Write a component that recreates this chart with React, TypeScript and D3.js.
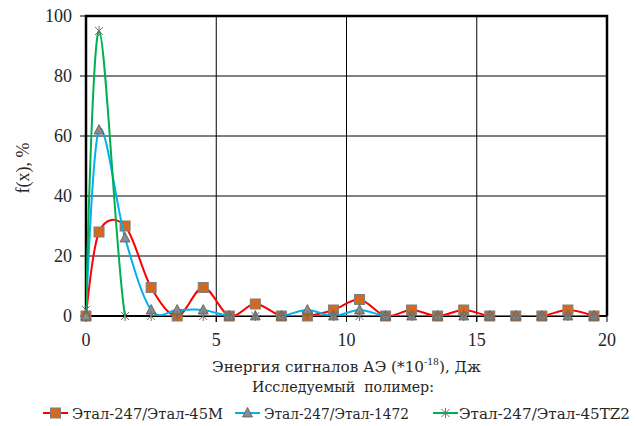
import React from "react";
import * as d3 from "d3";

const xValues = [0, 0.5, 1.5, 2.5, 3.5, 4.5, 5.5, 6.5, 7.5, 8.5, 9.5, 10.5, 11.5, 12.5, 13.5, 14.5, 15.5, 16.5, 17.5, 18.5, 19.5];
const series45M = [0, 28, 30, 9.5, 0, 9.5, 0, 4, 0, 0, 2, 5.5, 0, 2, 0, 2, 0, 0, 0, 2, 0];
const series1472 = [0, 62, 26, 2, 2, 2, 0, 0, 0, 2, 0, 2, 0, 0, 0, 0, 0, 0, 0, 0, 0];
const series45TZ2 = [2, 95, 0, 0, 0, 0, 0, 0, 0, 0, 0, 0, 0, 0, 0, 0, 0, 0, 0, 0, 0];
const seriesNames = ["Этал-247/Этал-45М", "Этал-247/Этал-1472", "Этал-247/Этал-45TZ2"];
const xTicks = [0, 5, 10, 15, 20];
const yTicks = [0, 20, 40, 60, 80, 100];

const W = 636, H = 426;
const left = 86, right = 607, top = 16, bottom = 316;
const latinFont = "'Liberation Serif', 'Times New Roman', serif";
const cyrFont = "'DejaVu Serif Condensed', 'DejaVu Serif', serif";
const ink = "#262626";

function Marker({ kind, x, y }: { kind: string; x: number; y: number }) {
  if (kind === "square") {
    return <rect x={x - 5} y={y - 5} width={10} height={10} fill="#D2691E" stroke="#7f7f7f" strokeWidth={1} />;
  }
  if (kind === "triangle") {
    return <path d={`M${x},${y - 5.5}L${x + 5},${y + 4}L${x - 5},${y + 4}Z`} fill="#8c8c8c" stroke="#595959" strokeWidth={0.8} />;
  }
  const r = 4;
  return (
    <g stroke="#6e6e6e" strokeWidth={1}>
      <line x1={x - r} y1={y - r} x2={x + r} y2={y + r} />
      <line x1={x - r} y1={y + r} x2={x + r} y2={y - r} />
      <line x1={x} y1={y - r - 1} x2={x} y2={y + r + 1} />
    </g>
  );
}

export default function App() {
  const x = d3.scaleLinear().domain([0, 20]).range([left, right]);
  const y = d3.scaleLinear().domain([0, 100]).range([bottom, top]);
  const line = d3
    .line<number>()
    .x((_, i) => x(xValues[i]))
    .y((d) => y(d))
    .curve(d3.curveCardinal.tension(0));

  const series = [
    { values: series45M, color: "#FF0000", marker: "square" },
    { values: series1472, color: "#00B0F0", marker: "triangle" },
    { values: series45TZ2, color: "#00B050", marker: "star" },
  ];

  // legend layout: line start, text start, text width
  const legendLine = [43, 235, 433];
  const legendText = [72, 264, 459];
  const legendWidth = [151, 145, 171];

  const latin = { fontFamily: latinFont, fontSize: 18, fill: ink } as React.CSSProperties;
  const cyr = { fontFamily: cyrFont, fontSize: 15.5, fill: ink } as React.CSSProperties;

  return (
    <svg width={W} height={H} style={{ position: "absolute", left: 0, top: 0, background: "#fff" }}>
      <defs>
        <clipPath id="plot">
          <rect x={left} y={top - 10} width={right - left} height={bottom - top + 10} />
        </clipPath>
      </defs>
      {/* grid */}
      {yTicks.filter((t) => t > 0 && t < 100).map((t) => (
        <line key={"gy" + t} x1={left} x2={right} y1={y(t)} y2={y(t)} stroke="#000" strokeWidth={1} />
      ))}
      {xTicks.filter((t) => t > 0 && t < 20).map((t) => (
        <line key={"gx" + t} x1={x(t)} x2={x(t)} y1={top} y2={bottom + 6} stroke="#000" strokeWidth={1} />
      ))}
      {/* ticks */}
      {yTicks.map((t) => (
        <line key={"ty" + t} x1={left - 6} x2={left} y1={y(t)} y2={y(t)} stroke="#000" strokeWidth={1} />
      ))}
      {xTicks.map((t) => (
        <line key={"tx" + t} x1={x(t)} x2={x(t)} y1={bottom} y2={bottom + 6} stroke="#000" strokeWidth={1} />
      ))}
      {/* frame */}
      <path d={`M${left},${bottom}V${top}H${right}V${bottom}`} fill="none" stroke="#000" strokeWidth={2.5} />
      <line x1={left} x2={right} y1={bottom} y2={bottom} stroke="#000" strokeWidth={2} />
      {/* series */}
      {series.map((s, si) => (
        <g key={"s" + si}>
          <path d={line(s.values) || ""} fill="none" stroke={s.color} strokeWidth={2} clipPath="url(#plot)" />
          {s.values.map((v, i) => (
            <Marker key={i} kind={s.marker} x={x(xValues[i])} y={y(v)} />
          ))}
        </g>
      ))}
      {/* tick labels */}
      {yTicks.map((t) => (
        <text key={"ly" + t} x={left - 14} y={y(t)} dy="0.35em" textAnchor="end" style={latin}>
          {t}
        </text>
      ))}
      {xTicks.map((t) => (
        <text key={"lx" + t} x={x(t)} y={bottom + 30} textAnchor="middle" style={latin}>
          {t}
        </text>
      ))}
      {/* axis titles */}
      <text transform={`translate(29,${(top + bottom) / 2 + 2}) rotate(-90)`} textAnchor="middle" style={latin}>
        f(x), %
      </text>
      <text x={212} y={372} style={cyr} textLength={269} lengthAdjust="spacingAndGlyphs">
        Энергия сигналов АЭ (*10
        <tspan fontSize={9.5} dy={-7}>-18</tspan>
        <tspan dy={7}>), Дж</tspan>
      </text>
      <text x={252} y={392} style={{ ...cyr, whiteSpace: "pre" }} textLength={182} lengthAdjust="spacingAndGlyphs">
        {"Исследуемый  полимер:"}
      </text>
      {/* legend */}
      {series.map((s, si) => (
        <g key={"lg" + si}>
          <line x1={legendLine[si]} x2={legendLine[si] + 25} y1={413} y2={413} stroke={s.color} strokeWidth={2} />
          <Marker kind={s.marker} x={legendLine[si] + 12.5} y={413} />
          <text x={legendText[si]} y={419} style={cyr} textLength={legendWidth[si]} lengthAdjust="spacingAndGlyphs">
            {seriesNames[si]}
          </text>
        </g>
      ))}
    </svg>
  );
}
